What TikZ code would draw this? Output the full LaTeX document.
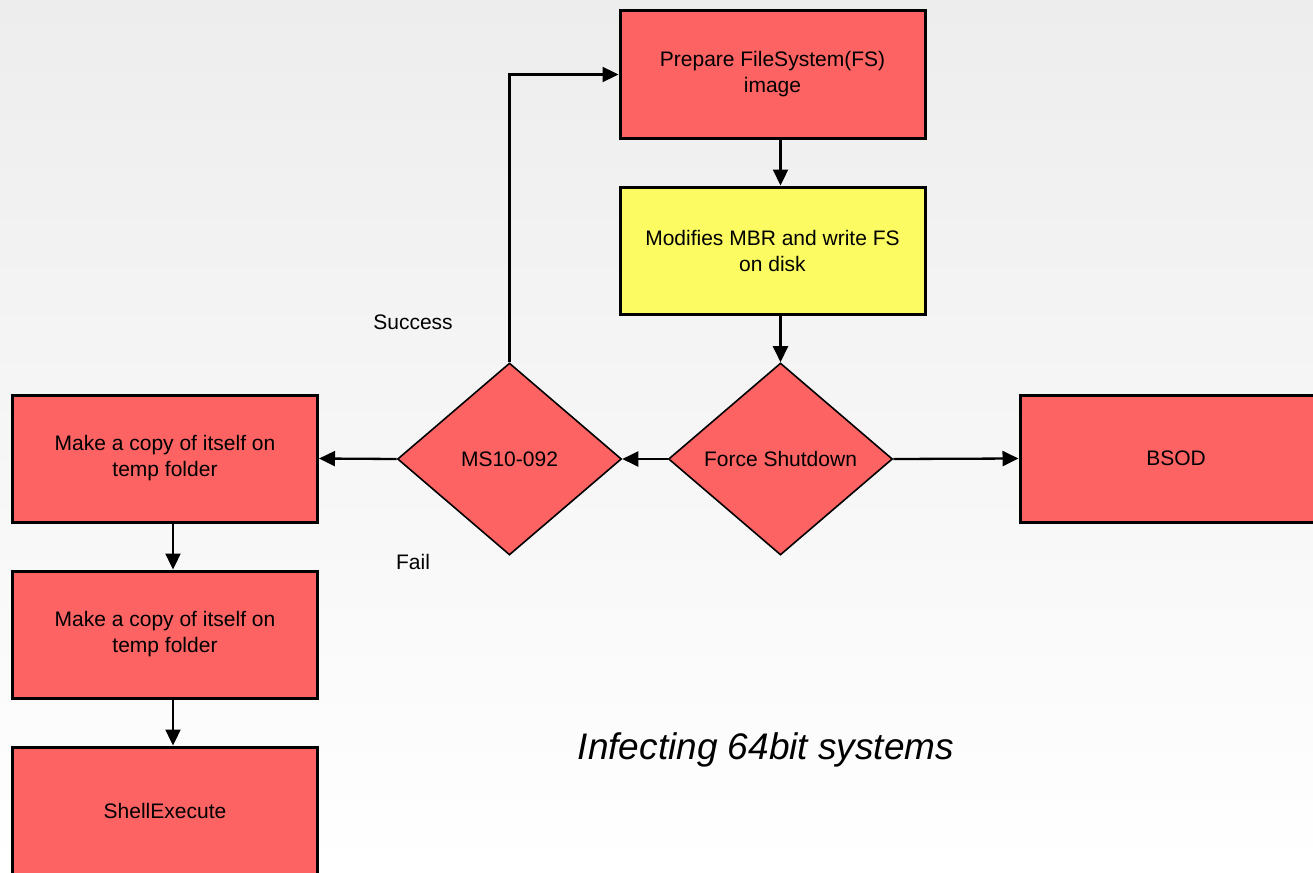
\documentclass[tikz,border=0pt]{standalone}
\usepackage{fontspec}
\setmainfont{Liberation Sans}
\usetikzlibrary{shapes.geometric,arrows.meta}
\definecolor{boxred}{RGB}{253,99,99}
\definecolor{boxyellow}{RGB}{252,252,98}
\definecolor{bgtop}{RGB}{237,237,237}
\begin{document}
\begin{tikzpicture}[x=1pt,y=-1pt,
  stepbox/.style={draw=black, line width=3pt, fill=boxred,
    minimum width=305pt, minimum height=127pt, inner sep=0pt,
    align=center, font=\fontsize{21}{26}\selectfont},
  decision/.style={diamond, draw=black, line width=1.6pt, fill=boxred,
    minimum width=224pt, minimum height=192pt, inner sep=0pt,
    font=\fontsize{21}{26}\selectfont},
  flow/.style={line width=2.3pt, -{Triangle[length=16pt,width=15pt]}},
  tag/.style={font=\fontsize{21}{26}\selectfont, inner sep=0pt}
]
\useasboundingbox (0,0) rectangle (1313,872);
% page background
\shade[top color=bgtop, bottom color=white] (0,0) rectangle (1313,872);
\clip (0,0) rectangle (1313,872);

% process steps
\node[stepbox] (prep) at (772.5,74.5) {Prepare FileSystem(FS)\\image};
\node[stepbox, fill=boxyellow] (mbr) at (772.5,250.5) {Modifies MBR and write FS\\on disk};
\node[decision] (force) at (780.5,459) {Force Shutdown};
\node[decision] (ms) at (509.5,459) {MS10-092};
\node[stepbox, minimum width=312pt] (bsod) at (1176,458.5) {BSOD};
\node[stepbox] (copyA) at (165,458.5) {Make a copy of itself on\\temp folder};
\node[stepbox] (copyB) at (165,634.5) {Make a copy of itself on\\temp folder};
\node[stepbox, minimum height=128pt] (shell) at (165,811) {ShellExecute};

% connectors
\draw[flow] (ms.north) |- (prep.west);
\draw[flow] (prep.south -| force.north) -- (mbr.north -| force.north);
\draw[flow] (mbr.south -| force.north) -- (force.north);
\draw[flow] (force.west) -- (ms.east);
\draw[flow] (force.east) -- (bsod.west);
\draw[flow] (ms.west) -- (copyA.east);
\draw[flow] ([xshift=8pt]copyA.south) -- ([xshift=8pt]copyB.north);
\draw[flow] ([xshift=8pt]copyB.south) -- ([xshift=8pt]shell.north);

% branch labels
\node[tag] (success) at (413,322) {Success};
\node[tag] (fail) at (413,562) {Fail};

% caption
\node[font=\fontsize{37}{42}\selectfont\itshape] (caption) at (766,750) {Infecting 64bit systems};
\end{tikzpicture}
\end{document}
